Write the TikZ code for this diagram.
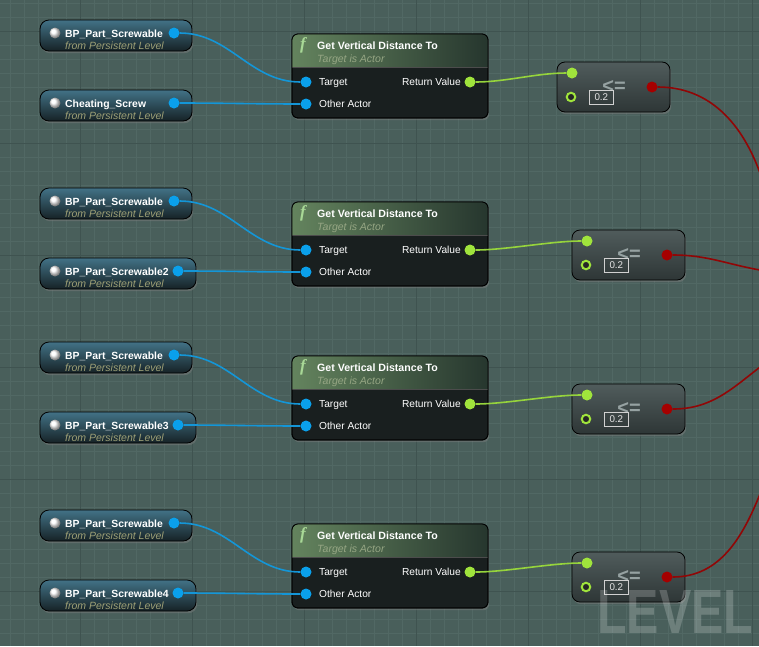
\documentclass[tikz,border=0pt]{standalone}
\usepackage{fontspec}
\setmainfont{Liberation Sans}
\newfontfamily\fsymfont{Liberation Serif}
\usepackage{graphicx}
\usetikzlibrary{shadows,calc}

\definecolor{bg}{RGB}{73,95,91}
\definecolor{gridminor}{RGB}{81,104,100}
\definecolor{gridmajor}{RGB}{63,83,80}
\definecolor{pinblue}{RGB}{10,160,235}
\definecolor{wireblue}{RGB}{20,150,215}
\definecolor{pingreen}{RGB}{160,228,60}
\definecolor{wiregreen}{RGB}{150,212,60}
\definecolor{pinred}{RGB}{165,0,0}
\definecolor{wirered}{RGB}{145,6,6}
\definecolor{subtext}{RGB}{158,160,118}
\definecolor{reftop}{RGB}{66,114,134}
\definecolor{refmid}{RGB}{38,64,74}
\definecolor{refbot}{RGB}{22,34,38}
\definecolor{funcbody}{RGB}{25,31,31}
\definecolor{headleft}{RGB}{100,132,94}
\definecolor{headright}{RGB}{38,54,46}
\definecolor{funcsubc}{RGB}{150,166,132}
\definecolor{fsymc}{RGB}{168,216,150}
\definecolor{cmptop}{RGB}{80,92,92}
\definecolor{cmpbot}{RGB}{46,54,54}
\definecolor{optextc}{RGB}{150,162,162}

\tikzset{
  nshadow/.style={drop shadow={opacity=0.45,shadow xshift=1.2pt,shadow yshift=-2.2pt}},
  refbox/.style={draw=black, line width=0.8pt, rounded corners=9pt, top color=reftop,
    middle color=refmid, bottom color=refbot, anchor=north west, minimum height=31pt,
    inner sep=0pt, outer sep=0pt, nshadow},
  reftitle/.style={anchor=base west, inner sep=0pt, text=white, font=\bfseries\fontsize{10.4}{12}\selectfont},
  refsub/.style={anchor=base west, inner sep=0pt, text=subtext, font=\itshape\fontsize{10.5}{12}\selectfont},
  sphere/.style={circle, minimum size=11pt, inner sep=0pt, ball color=white},
  bluepin/.style={circle, fill=pinblue, minimum size=11pt, inner sep=0pt},
  greenpin/.style={circle, fill=pingreen, minimum size=11pt, inner sep=0pt},
  hollowpin/.style={circle, draw=pingreen, line width=2pt, fill=black!85, minimum size=8.5pt, inner sep=0pt},
  redpin/.style={circle, fill=pinred, minimum size=11pt, inner sep=0pt},
  funcbox/.style={draw=black, line width=0.8pt, rounded corners=6pt, fill=funcbody, anchor=north west,
    minimum width=196pt, minimum height=84pt, inner sep=0pt, outer sep=0pt, nshadow},
  functitle/.style={anchor=base west, inner sep=0pt, text=white, font=\bfseries\fontsize{10.6}{12}\selectfont},
  funcsub/.style={anchor=base west, inner sep=0pt, text=funcsubc, font=\itshape\fontsize{10.5}{12}\selectfont},
  fsym/.style={inner sep=0pt, text=fsymc, font=\fsymfont\bfseries\itshape\fontsize{17}{17}\selectfont},
  pinlabel/.style={inner sep=0pt, text=white, font=\fontsize{10.2}{12}\selectfont},
  cmpbox/.style={draw=black, line width=0.8pt, rounded corners=8pt, top color=cmptop, bottom color=cmpbot,
    anchor=north west, minimum width=113pt, minimum height=50pt, inner sep=0pt, outer sep=0pt, nshadow},
  optext/.style={inner sep=0pt, text=optextc, font=\bfseries\fontsize{20}{20}\selectfont},
  valbox/.style={draw=black!18, line width=0.7pt, text=black!10, font=\fontsize{9.8}{10}\selectfont,
    minimum width=24pt, minimum height=14pt, inner sep=0pt, anchor=north west},
  bwire/.style={wireblue, line width=1.6pt},
  gwire/.style={wiregreen, line width=1.6pt},
  rwire/.style={wirered, line width=1.6pt},
}

% #1 id, #2 func top y, #3 compare x, #4 ref B width, #5 ref B label, #6 red wire edge y, #7 red wire in-angle
\newcommand\bpgroup[7]{%
  % reference node A
  \node[refbox, minimum width=152pt] (a#1) at (40,#2-14) {};
  \node[sphere] (a#1s) at ($(a#1.north west)+(15,13)$) {};
  \node[reftitle] (a#1t) at ($(a#1.north west)+(25,17)$) {BP\_Part\_Screwable};
  \node[refsub] (a#1u) at ($(a#1.north west)+(25,29.5)$) {from Persistent Level};
  \node[bluepin] (a#1p) at ($(a#1.north east)+(-18,13)$) {};
  % reference node B
  \node[refbox, minimum width=#4] (b#1) at (40,#2+56) {};
  \node[sphere] (b#1s) at ($(b#1.north west)+(15,13)$) {};
  \node[reftitle] (b#1t) at ($(b#1.north west)+(25,17)$) {#5};
  \node[refsub] (b#1u) at ($(b#1.north west)+(25,29.5)$) {from Persistent Level};
  \node[bluepin] (b#1p) at ($(b#1.north east)+(-18,13)$) {};
  % function node
  \node[funcbox] (f#1) at (292,#2) {};
  \begin{scope}
    \clip[rounded corners=6pt] (f#1.north west) rectangle (f#1.south east);
    \shade[left color=headleft, right color=headright] (f#1.north west) rectangle ($(f#1.north east)+(0,33)$);
    \draw[black!70, line width=0.6pt] ($(f#1.north west)+(0,33)$) -- ($(f#1.north east)+(0,33)$);
  \end{scope}
  \draw[black, line width=0.8pt, rounded corners=6pt] (f#1.north west) rectangle (f#1.south east);
  \node[fsym] (f#1f) at ($(f#1.north west)+(11,11)$) {f};
  \node[functitle] (f#1t) at ($(f#1.north west)+(25,15)$) {Get Vertical Distance To};
  \node[funcsub] (f#1u) at ($(f#1.north west)+(25,28.8)$) {Target is Actor};
  \node[bluepin] (f#1a) at ($(f#1.north west)+(14,48)$) {};
  \node[pinlabel, anchor=base west] (f#1al) at ($(f#1.north west)+(27,51.6)$) {Target};
  \node[bluepin] (f#1b) at ($(f#1.north west)+(14,70)$) {};
  \node[pinlabel, anchor=base west] (f#1bl) at ($(f#1.north west)+(27,73.6)$) {Other Actor};
  \node[greenpin] (f#1r) at ($(f#1.north west)+(178,48)$) {};
  \node[pinlabel, anchor=base east] (f#1rl) at ($(f#1.north west)+(169,51.6)$) {Return Value};
  % compare node
  \node[cmpbox] (c#1) at (#3,#2+28) {};
  \node[greenpin] (c#1a) at ($(c#1.north west)+(15,11)$) {};
  \node[hollowpin] (c#1b) at ($(c#1.north west)+(14,35)$) {};
  \node[optext] (c#1o) at ($(c#1.north west)+(57,24.5)$) {<=};
  \node[valbox] (c#1v) at ($(c#1.north west)+(32,28)$) {0.2};
  \node[redpin] (c#1p) at ($(c#1.north west)+(95,25)$) {};
  % wires
  \draw[bwire] (a#1p.east) .. controls +(50,0) and +(-50,0) .. (f#1a.west);
  \draw[bwire] (b#1p.east) .. controls +(40,0) and +(-40,0) .. (f#1b.west);
  \draw[gwire] (f#1r.east) .. controls +(30,0) and +(-30,0) .. (c#1a.west);
  \coordinate (e#1) at (760,#6);
  \draw[rwire] (c#1p.east) to[out=0,in=#7] (e#1);
}

\begin{document}
\begin{tikzpicture}[x=1pt,y=-1pt]
  \useasboundingbox (0,0) rectangle (759,646);
  \clip (0,0) rectangle (759,646);
  % background grid
  \fill[bg] (0,0) rectangle (759,646);
  \foreach \gx in {10,24,...,759} \draw[gridminor, line width=0.8pt] (\gx,0) -- (\gx,646);
  \foreach \gy in {3,17,...,646} \draw[gridminor, line width=0.8pt] (0,\gy) -- (759,\gy);
  \foreach \gx in {80,192,...,759} \draw[gridmajor, line width=1pt] (\gx,0) -- (\gx,646);
  \foreach \gy in {31,143,...,646} \draw[gridmajor, line width=1pt] (0,\gy) -- (759,\gy);

  \bpgroup{1}{34}{557}{152pt}{Cheating\_Screw}{173}{110}
  \bpgroup{2}{202}{572}{156pt}{BP\_Part\_Screwable2}{270}{170}
  \bpgroup{3}{356}{572}{156pt}{BP\_Part\_Screwable3}{367}{218}
  \bpgroup{4}{524}{572}{156pt}{BP\_Part\_Screwable4}{494}{248}

  % watermark
  \node[anchor=north west, inner sep=0pt, text=white, text opacity=0.2] (wm) at (597,590)
    {\resizebox{156pt}{43pt}{\bfseries LEVEL}};
\end{tikzpicture}
\end{document}
